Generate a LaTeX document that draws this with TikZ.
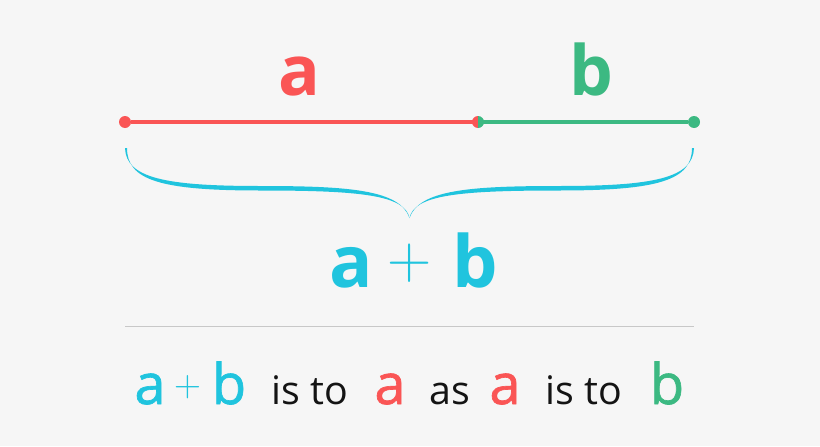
\documentclass[tikz,border=0pt]{standalone}
\usepackage{fontspec}
\setmainfont{Open Sans}
\newfontfamily\semifont{Open Sans}[FakeBold=1.2]
\newfontfamily\plusfont{Latin Modern Roman}
\definecolor{segA}{RGB}{250,85,85}
\definecolor{segB}{RGB}{60,185,130}
\definecolor{whole}{RGB}{32,196,222}
\definecolor{ink}{RGB}{20,20,20}
\definecolor{paper}{RGB}{246,246,246}
\definecolor{rulegray}{RGB}{200,200,200}
\tikzset{
  dot/.style={circle,fill,inner sep=0pt,minimum size=9pt},
  lbl/.style={inner sep=0pt,anchor=base},
  toplbl/.style={lbl,font=\bfseries\fontsize{52pt}{52pt}\selectfont},
  sumlbl/.style={lbl,font=\bfseries\fontsize{54pt}{54pt}\selectfont},
  rowlbl/.style={lbl,font=\semifont\fontsize{42pt}{42pt}\selectfont},
  rowtxt/.style={lbl,ink,font=\fontsize{29.5pt}{29.5pt}\selectfont},
}
\begin{document}
\begin{tikzpicture}[x=0.75pt,y=-0.75pt]
  \fill[paper] (0,0) rectangle (820,446);
  % the segment a + b
  \draw
    (125,122) node[dot,segA] (0){}
    (478,122) coordinate (1)
    (694,122) node[dot,segB] (2){};
  \begin{scope}[line width=3.4pt]
    \draw[segA] (0) to (1);
    \draw[segB] (1) to (2);
  \end{scope}
  \fill[segA] (1) ++(0,6) arc[start angle=90,end angle=270,radius=6] -- cycle;
  \fill[segB] (1) ++(0,6) arc[start angle=90,end angle=-90,radius=6] -- cycle;
  \node[toplbl,segA] (la) at (299,95) {a};
  \node[toplbl,segB] (lb) at (591,95) {b};
  % brace
  \foreach \s in {1,-1}
    \fill[whole,shift={(409.5,0)},xscale=\s]
      (-284.5,148) .. controls (-283.5,178) and (-244.5,186) .. (-149.5,186)
      .. controls (-59.5,186) and (-9.5,190) .. (0,218)
      .. controls (-4.5,195) and (-49.5,190.5) .. (-149.5,190.5)
      .. controls (-249.5,190.5) and (-282.5,180) .. (-282.5,148) -- cycle;
  \node[sumlbl,whole] (sa) at (351,287) {a};
  \node[whole,inner sep=0pt,font=\plusfont\fontsize{46pt}{46pt}\selectfont] (sp) at (410,263) {+};
  \node[sumlbl,whole] (sb) at (475,287) {b};
  % rule
  \coordinate (ruleL) at (125,326);
  \coordinate (ruleR) at (694,326);
  \draw[rulegray,line width=0.75pt] (ruleL) -- (ruleR);
  % bottom row
  \node[rowlbl,whole] (ra) at (150,404) {a};
  \node[whole,inner sep=0pt,font=\plusfont\fontsize{28pt}{28pt}\selectfont] (rp) at (188,387) {+};
  \node[rowlbl,whole] (rb) at (229,404) {b};
  \node[rowtxt] (t1) at (310,404) {is to};
  \node[rowlbl,segA] (ra2) at (390,404) {a};
  \node[rowtxt] (t2) at (450,404) {as};
  \node[rowlbl,segA] (ra3) at (505,404) {a};
  \node[rowtxt] (t3) at (584,404) {is to};
  \node[rowlbl,segB] (rb2) at (667,404) {b};
\end{tikzpicture}
\end{document}
